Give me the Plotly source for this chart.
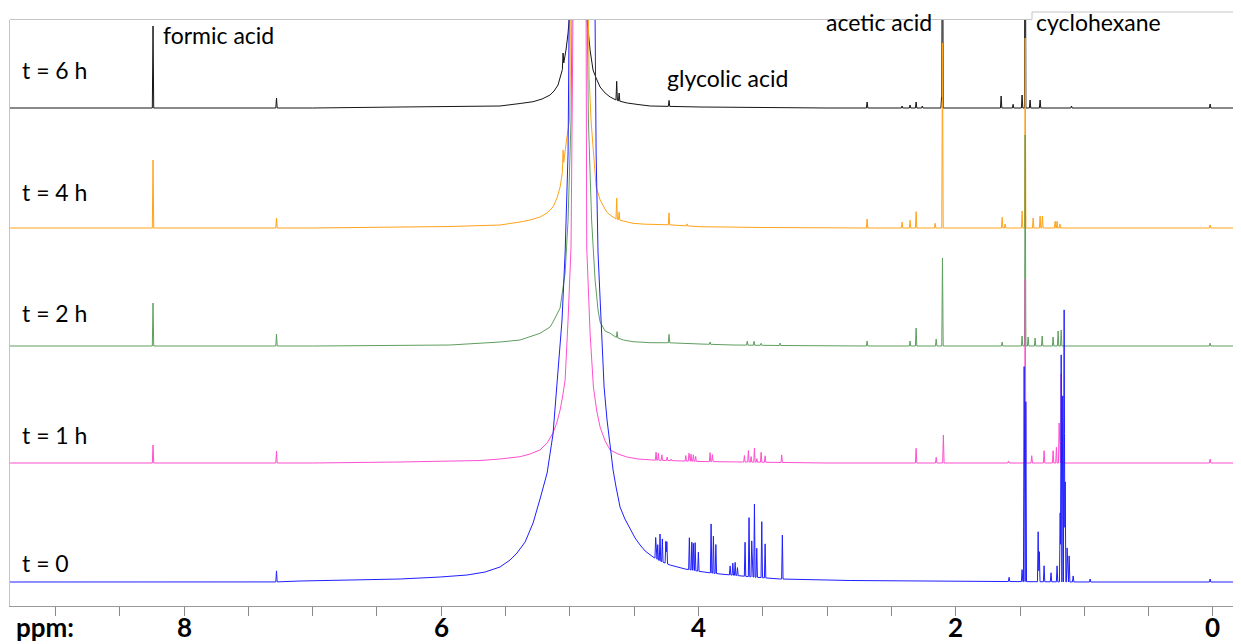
import numpy as np
import plotly.graph_objects as go

# ---------------- data ----------------
labels = ["t = 6 h", "t = 4 h", "t = 2 h", "t = 1 h", "t = 0"]
colors = ["#151515", "#ffa31a", "#5f9e5f", "#ff4fd0", "#1f1fff"]
offsets = [498, 378, 260, 143, 24]          # vertical stacking offsets (intensity units)

# broad water (HOD) line profile of each spectrum: ppm / intensity
water_ppm_6h = [7.0, 6.32, 5.543, 5.387, 5.286, 5.216, 5.154, 5.123, 5.092, 5.053, 5.030, 5.014, 5.006,
                4.998, 4.936, 4.874, 4.866, 4.843, 4.820, 4.796, 4.765, 4.726, 4.687, 4.633, 4.555,
                4.470, 4.376, 3.988, 3.0]
water_int_6h = [0, 1, 2, 4.5, 6.3, 9, 13, 17, 23, 41, 58, 75, 88,
                200, 6000, 200, 88, 58, 38, 30, 21, 15, 11, 7.5, 5,
                3.5, 2, 1, 0]

water_ppm_4h = [7.0, 5.932, 5.543, 5.387, 5.310, 5.232, 5.177, 5.131, 5.100, 5.076, 5.053, 5.024, 5.004,
                4.998, 4.991, 4.925, 4.858, 4.850, 4.835, 4.817, 4.796, 4.765, 4.734, 4.714, 4.687,
                4.641, 4.586, 4.509, 4.415, 4.244, 3.988, 3.5, 3.0]
water_int_4h = [0, 1.5, 3, 6, 8, 11, 15, 21, 30, 41, 60, 90, 107,
                150, 230, 6000, 230, 150, 107, 74, 41, 28, 20, 16, 13,
                9, 7, 4.7, 3.8, 3.3, 1.3, 0.5, 0]

water_ppm_2h = [7.0, 5.932, 5.543, 5.387, 5.310, 5.232, 5.154, 5.131, 5.076, 5.057, 5.037, 5.014, 4.991,
                4.983, 4.921, 4.866, 4.856, 4.831, 4.804, 4.781, 4.765, 4.726, 4.687, 4.641, 4.584,
                4.509, 4.376, 4.244, 3.988, 3.731, 3.0]
water_int_2h = [0, 1, 4, 6, 9, 12.7, 19, 24, 38, 55, 73, 126, 226,
                340, 6000, 340, 226, 126, 66, 36, 24, 15, 12.7, 8.7, 6,
                4.3, 3.3, 3.3, 2, 1, 0]

water_ppm_1h = [7.0, 6.32, 5.698, 5.543, 5.387, 5.310, 5.232, 5.177, 5.131, 5.102, 5.076, 5.057, 5.037,
                5.014, 4.991, 4.975, 4.925, 4.874, 4.869, 4.843, 4.817, 4.791, 4.765, 4.726, 4.687,
                4.625, 4.557, 4.470, 4.376, 3.988, 3.0]
water_int_1h = [0, 1, 2.5, 4, 6.3, 9, 13, 20, 30, 40, 53, 66, 83,
                143, 216, 460, 6000, 460, 216, 130, 76, 52, 36, 22, 13,
                9, 6, 4, 3, 1.5, 0]

water_ppm_0h = [7.3, 7.098, 6.709, 6.32, 6.009, 5.799, 5.659, 5.543, 5.465, 5.411, 5.348, 5.286, 5.232,
                5.177, 5.131, 5.100, 5.076, 5.061, 5.037, 5.014, 5.006, 4.998, 4.905, 4.812, 4.804,
                4.796, 4.781, 4.750, 4.734, 4.711, 4.687, 4.664, 4.641, 4.610, 4.572, 4.532, 4.493,
                4.454, 4.415, 4.353, 4.299, 4.221, 4.104, 3.964, 3.832, 3.576, 3.365, 2.821, 1.65, 1.0]
water_int_0h = [0, 1, 2, 3, 5, 7, 10, 15, 22, 29, 40, 59, 83,
                109, 148, 195, 235, 262, 329, 429, 562, 700, 6000, 700, 562,
                429, 329, 229, 195, 162, 135, 112, 95, 75, 63, 53, 44,
                37, 31, 25, 21, 17, 13, 10, 8, 5, 3, 1.5, 0.5, 0]

# sharp signals of each spectrum: ppm / intensity above the local background
peak_ppm_6h = [8.241, 7.281, 5.053, 4.636, 4.617, 4.229, 2.689, 2.417, 2.355, 2.308, 2.26, 2.110, 2.103,
               1.647, 1.554, 1.484, 1.460, 1.422, 1.344, 1.10, 0.022]
peak_int_6h = [82, 10, 14, 19, 8, 6, 6, 2, 3, 6, 2, 11, 300,
               12, 3.7, 13, 300, 8, 8, 2, 4]

peak_ppm_4h = [8.241, 7.281, 5.053, 4.636, 4.617, 4.229, 4.089, 2.689, 2.417, 2.355, 2.308, 2.160, 2.103,
               1.639, 1.616, 1.484, 1.460, 1.398, 1.344, 1.326, 1.227, 1.212, 1.19, 0.022]
peak_int_4h = [68, 10, 18, 21, 8, 12, 2, 9, 6, 7.7, 16.3, 4.7, 185,
               10.7, 4, 17, 190, 10, 12, 12, 6.7, 6.7, 4, 3]

peak_ppm_2h = [8.241, 7.281, 4.633, 4.229, 3.910, 3.621, 3.568, 3.513, 3.365, 2.689, 2.355, 2.308, 2.152,
               2.103, 1.639, 1.484, 1.460, 1.437, 1.383, 1.328, 1.243, 1.204, 1.180, 0.022]
peak_int_2h = [43, 12, 6, 8.4, 2.3, 4, 4, 2, 2.5, 5, 5, 18, 7,
               88, 4, 10, 211, 9, 8, 10, 9, 15, 16, 3]

peak_ppm_1h = [8.241, 7.281, 4.330, 4.312, 4.285, 4.244, 4.213, 4.099, 4.074, 4.058, 4.040, 4.022,
               3.910, 3.892, 3.643, 3.612, 3.591, 3.565, 3.546, 3.513, 3.482, 3.353, 2.308, 2.152,
               2.096, 1.590, 1.460, 1.409, 1.313, 1.243, 1.217, 1.196, 1.180, 0.022]
peak_int_1h = [18, 12, 8, 7, 5.5, 3.5, 1.5, 5.5, 8, 7, 6.5, 5,
               9, 7, 6.5, 11.5, 5.5, 14, 3.5, 10, 6.5, 7.5, 14.7, 5.7,
               28, 2, 184, 7.3, 12.3, 12.3, 15.7, 40, 89, 4]

peak_ppm_0h = [7.281, 4.333, 4.317, 4.299, 4.281, 4.254, 4.246, 4.071, 4.052, 4.040, 4.026, 4.001,
               3.902, 3.884, 3.865, 3.754, 3.733, 3.715, 3.697, 3.638, 3.607, 3.586, 3.565, 3.547,
               3.508, 3.482, 3.348, 1.585, 1.484, 1.468, 1.455, 1.359, 1.350, 1.313, 1.259, 1.212,
               1.188, 1.180, 1.168, 1.157, 1.149, 1.134, 1.118, 1.087, 0.955, 0.022]
peak_int_0h = [11, 21, 15, 27, 23, 22, 22, 32, 28, 27, 28, 19,
               49, 37, 29, 9, 12, 13, 8, 34, 59, 36, 73, 29,
               56, 34, 44, 4.3, 12, 215, 180, 50, 30, 16, 9, 16,
               69, 227, 186, 272, 100, 34, 26, 6, 3, 3]

water_ppm = [water_ppm_6h, water_ppm_4h, water_ppm_2h, water_ppm_1h, water_ppm_0h]
water_int = [water_int_6h, water_int_4h, water_int_2h, water_int_1h, water_int_0h]
peak_ppm = [peak_ppm_6h, peak_ppm_4h, peak_ppm_2h, peak_ppm_1h, peak_ppm_0h]
peak_int = [peak_int_6h, peak_int_4h, peak_int_2h, peak_int_1h, peak_int_0h]

axis_ticks = [i * 0.5 for i in range(0, 19)]
axis_label_vals = [8, 6, 4, 2, 0]
annot_text = ["formic acid", "glycolic acid", "acetic acid", "cyclohexane"]

# ---------------- figure geometry ----------------
# the page body has an 8 px margin, so the figure is drawn 8 px smaller and
# all screen positions below are given in window pixels
PAGE = 8
WIN_W, WIN_H = 1241, 644
W, H = WIN_W - PAGE, WIN_H - PAGE
PLOT_X0, PLOT_X1, PLOT_Y0, PLOT_Y1 = 10, 1241, 20, 606     # plot area in window pixels
L, R = PLOT_X0 - PAGE, WIN_W - PLOT_X1
T, B = PLOT_Y0 - PAGE, WIN_H - PLOT_Y1
PW, PH = PLOT_X1 - PLOT_X0, PLOT_Y1 - PLOT_Y0
X_RANGE = [9.353, -0.218]


def px(x):
    return (x - PLOT_X0) / PW


def py(y):
    return (PLOT_Y1 - y) / PH


def spectrum(wp, wi, pp, pi, half=0.0055):
    wp = np.asarray(wp, float)
    wi = np.asarray(wi, float)
    o = np.argsort(wp)
    wp, wi = wp[o], wi[o]
    xs = set([9.6, -0.4]) | set(wp.tolist())
    for p in pp:
        xs.update([p - half, p, p + half])
    xs = np.array(sorted(xs))
    ys = np.interp(xs, wp, wi, left=0, right=0)
    for p, h in zip(pp, pi):
        ys = ys + np.clip(h * (1 - np.abs(xs - p) / half), 0, None)
    return xs[::-1], ys[::-1]


fig = go.Figure()
for k in range(5):
    xs, ys = spectrum(water_ppm[k], water_int[k], peak_ppm[k], peak_int[k])
    fig.add_trace(go.Scatter(x=xs, y=ys + offsets[k], mode="lines",
                             line=dict(color=colors[k], width=1), hoverinfo="skip",
                             showlegend=False))

FONT = "Lato, Open Sans, sans-serif"
ann = []
label_y = [70, 192, 313, 435, 563]
for k in range(5):
    ann.append(dict(text=labels[k], x=px(20), y=py(label_y[k]), xref="paper", yref="paper",
                    xanchor="left", yanchor="middle", showarrow=False,
                    font=dict(family=FONT, size=23, color="black")))
annot_pos = [(161, 35), (665, 78), (824, 22), (1034, 22)]
for t, (ax, ay) in zip(annot_text, annot_pos):
    ann.append(dict(text=t, x=px(ax), y=py(ay), xref="paper", yref="paper",
                    xanchor="left", yanchor="middle", showarrow=False,
                    font=dict(family=FONT, size=23, color="black")))
for v in axis_label_vals:
    ann.append(dict(text=str(v), x=v, y=py(627), xref="x", yref="paper",
                    xanchor="center", yanchor="middle", showarrow=False,
                    font=dict(family=FONT, size=26, color="black", weight="bold")))
ann.append(dict(text="ppm:", x=px(14), y=py(627), xref="paper", yref="paper",
                xanchor="left", yanchor="middle", showarrow=False,
                font=dict(family=FONT, size=26, color="black", weight="bold")))

gray = "#c4c4c4"
shapes = [
    dict(type="line", xref="paper", yref="paper", x0=px(10), x1=px(1032), y0=py(19.5), y1=py(19.5),
         line=dict(color=gray, width=1)),
    dict(type="line", xref="paper", yref="paper", x0=px(1032), x1=px(1032), y0=py(19.5), y1=py(12),
         line=dict(color=gray, width=1)),
    dict(type="line", xref="paper", yref="paper", x0=px(1032), x1=px(1241), y0=py(12), y1=py(12),
         line=dict(color=gray, width=1)),
]
for (a, b) in [(41, 128), (159, 246), (264, 356), (385, 476), (505, 600)]:
    shapes.append(dict(type="path", xref="paper", yref="paper",
                       path=f"M {px(1241)},{py(a)} L {px(1238)},{py(a)} L {px(1238)},{py(b)} L {px(1241)},{py(b)}",
                       line=dict(color="#d6d6d6", width=1)))

fig.update_layout(
    width=W, height=H,
    margin=dict(l=L, r=R, t=T, b=B, pad=0),
    paper_bgcolor="white", plot_bgcolor="white",
    showlegend=False,
    annotations=ann, shapes=shapes,
    xaxis=dict(range=X_RANGE, tickvals=axis_ticks, showticklabels=False, automargin=False,
               ticks="outside", ticklen=9, tickwidth=1, tickcolor="#888888",
               showline=True, linecolor="#9a9a9a", linewidth=1,
               showgrid=False, zeroline=False),
    yaxis=dict(range=[0, PH], showticklabels=False, ticks="", showgrid=False, zeroline=False,
               automargin=False, showline=True, linecolor=gray, linewidth=1),
)

fig.write_html("out.html")
